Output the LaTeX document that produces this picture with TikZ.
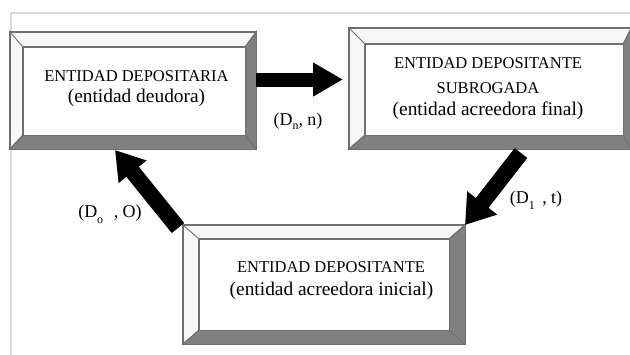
\documentclass[tikz,border=0pt]{standalone}
\usepackage{fontspec}
\setmainfont{Liberation Serif}
\usetikzlibrary{arrows.meta}
\definecolor{bevdark}{HTML}{808080}
\definecolor{bevline}{HTML}{6E6E6E}
\definecolor{bevlight}{HTML}{F7F7F7}
\definecolor{framegray}{HTML}{DADADA}
\tikzset{
  outerbox/.style={draw=bevline, fill=bevlight, line width=0.9pt, inner sep=0pt},
  innerbox/.style={draw=bevline, fill=white, line width=0.9pt, inner sep=0pt},
  capsline/.style={font=\fontsize{16.5}{20}\selectfont, inner sep=0pt, anchor=base},
  lowline/.style={font=\fontsize{19.4}{20}\selectfont, inner sep=0pt, anchor=base},
  lbl/.style={font=\fontsize{18}{20}\selectfont, inner sep=0pt, anchor=base},
  blockarrow/.style={line width=#1, draw=black},
}
\newcommand{\bevel}[2]{%
  \fill[bevdark, draw=bevline, line width=0.9pt] (#1.north east) -- (#1.south east) -- (#1.south west)
     -- (#2.south west) -- (#2.south east) -- (#2.north east) -- cycle;
  \draw[bevline, line width=0.9pt] (#1.north west) -- (#2.north west)
     (#1.north east) -- (#2.north east) (#1.south west) -- (#2.south west)
     (#1.south east) -- (#2.south east);
  \draw[bevline, line width=0.9pt] (#1.north west) rectangle (#1.south east);
  \draw[bevline, line width=0.9pt] (#2.north west) rectangle (#2.south east);
}
\begin{document}
\begin{tikzpicture}[x=1pt, y=-1pt]
\useasboundingbox (0,0) rectangle (630,354);
% frame
\draw[framegray, line width=1.3pt] (11,358) -- (11,13) -- (634,13);
% box 1
\node[outerbox, minimum width=246pt, minimum height=117pt] (dep) at (133,90.5) {};
\node[innerbox, minimum width=222pt, minimum height=88pt] (depin) at (134,91) {};
\bevel{dep}{depin}
\node[capsline] (dep1) at (136.5,81) {ENTIDAD DEPOSITARIA};
\node[lowline] (dep2) at (136.5,102) {(entidad deudora)};
% box 2
\node[outerbox, minimum width=282pt, minimum height=121pt] (sub) at (490,88.5) {};
\node[innerbox, minimum width=258pt, minimum height=91pt] (subin) at (494,89.5) {};
\bevel{sub}{subin}
\node[capsline] (sub1) at (488,68) {ENTIDAD DEPOSITANTE};
\node[capsline] (sub2) at (488,93) {SUBROGADA};
\node[lowline] (sub3) at (488,115) {(entidad acreedora final)};
% box 3
\node[outerbox, minimum width=282pt, minimum height=119pt] (ini) at (324,284.5) {};
\node[innerbox, minimum width=250pt, minimum height=91pt] (iniin) at (324,284.5) {};
\bevel{ini}{iniin}
\node[capsline] (ini1) at (331,272) {ENTIDAD DEPOSITANTE};
\node[lowline] (ini2) at (331.5,295) {(entidad acreedora inicial)};
% arrows
\coordinate (a1s) at (256,79.5);
\coordinate (a1e) at (343,79.5);
\draw[blockarrow=14pt, -{Triangle[width=32pt,length=30pt]}] (a1s) -- (a1e);
\coordinate (a2s) at (521,153);
\coordinate (a2e) at (465,225);
\draw[blockarrow=16pt, -{Triangle[width=36pt,length=28pt]}] (a2s) -- (a2e);
\coordinate (a3s) at (178,228);
\coordinate (a3e) at (115,150);
\draw[blockarrow=16pt, -{Triangle[width=34pt,length=28pt]}] (a3s) -- (a3e);
% labels
\node[lbl] (l1) at (298,125) {(D\raisebox{-4pt}{\fontsize{12}{12}\selectfont n}, n)};
\node[lbl] (l2) at (536,203) {(D\raisebox{-6pt}{\fontsize{12}{12}\selectfont 1}\, , t)};
\node[lbl] (l3) at (110,217) {(D\raisebox{-6pt}{\fontsize{12}{12}\selectfont o}\,\, , O)};
\end{tikzpicture}
\end{document}
